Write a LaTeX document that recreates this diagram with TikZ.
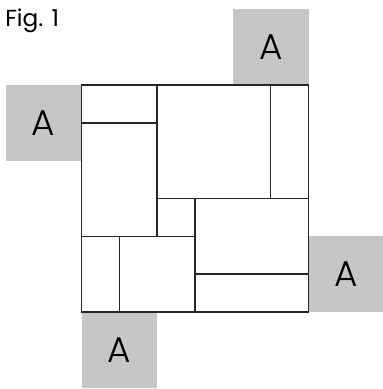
\documentclass[tikz,border=0pt]{standalone}
\usepackage{fontspec}
\setmainfont{Poppins}[UprightFont=* Light]
\newfontfamily\figfont{Poppins}
\definecolor{tilegray}{RGB}{198,198,198}
\tikzset{
  tile/.style={fill=tilegray, minimum size=2cm, inner sep=0pt, font=\fontsize{27}{27}\selectfont},
  edge/.style={line width=1pt, draw=black!85}
}
\begin{document}
\begin{tikzpicture}
  \useasboundingbox (-2.156,2.249) rectangle (7.95,-8.04);
  \node[anchor=base west, inner sep=0pt, font=\figfont\fontsize{17.5}{18}\selectfont] (fig) at (-2.024,1.543) {Fig. 1};

  \node[tile, anchor=south west] (topA) at (4,0) {A};
  \node[tile, anchor=north east] (leftA) at (0,0) {A};
  \node[tile, anchor=south west] (rightA) at (6,-6) {A};
  \node[tile, anchor=north west] (bottomA) at (0,-6) {A};

  \draw[edge, fill=white] (0,0) rectangle (6,-6);
  \draw[edge] (0,-1) -- (2,-1);
  \draw[edge] (2,0) -- (2,-4);
  \draw[edge] (5,0) -- (5,-3);
  \draw[edge] (2,-3) -- (6,-3);
  \draw[edge] (0,-4) -- (3,-4);
  \draw[edge] (3,-3) -- (3,-6);
  \draw[edge] (1,-4) -- (1,-6);
  \draw[edge] (3,-5) -- (6,-5);
\end{tikzpicture}
\end{document}
